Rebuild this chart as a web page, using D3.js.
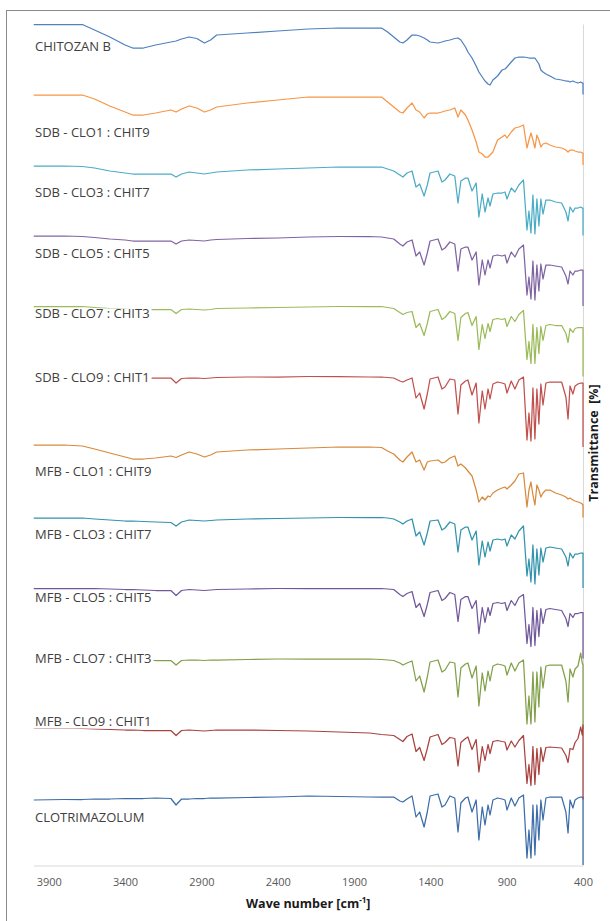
<!DOCTYPE html>
<html>
<head>
<meta charset="utf-8">
<script src="https://cdn.jsdelivr.net/npm/d3@7"></script>
<style>
  body { margin: 0; background: #fff; }
  text { font-family: "Open Sans", "DejaVu Sans", sans-serif; }
</style>
</head>
<body>
<svg id="chart" width="610" height="921"></svg>
<script>
// wave numbers [cm-1], shared by every spectrum (last 400 is the drop at the axis)
const waveNumbers = [4000, 3800, 3680, 3600, 3500, 3400, 3350, 3280, 3200, 3100, 3066, 3030, 2980, 2930, 2880, 2840, 2800,
  2600, 2400, 2200, 2000, 1800, 1720, 1680, 1640, 1600, 1580, 1553, 1520, 1494, 1470, 1441, 1420, 1402, 1350, 1324, 1304,
  1272, 1240, 1219, 1200, 1170, 1154, 1127, 1100, 1082, 1060, 1042, 1022, 1009, 990, 960, 930, 911, 898, 870, 846, 820,
  790, 767, 754, 741, 728, 715, 702, 689, 676, 662, 643, 617, 580, 540, 512, 498, 485, 466, 452, 433, 415, 405, 400, 400];

const sampleNames = ['CHITOZAN B', 'SDB - CLO1 : CHIT9', 'SDB - CLO3 : CHIT7', 'SDB - CLO5 : CHIT5', 'SDB - CLO7 : CHIT3',
  'SDB - CLO9 : CHIT1', 'MFB - CLO1 : CHIT9', 'MFB - CLO3 : CHIT7', 'MFB - CLO5 : CHIT5', 'MFB - CLO7 : CHIT3',
  'MFB - CLO9 : CHIT1', 'CLOTRIMAZOLUM'];

const xTicks = [3900, 3400, 2900, 2400, 1900, 1400, 900, 400];

// transmittance of each spectrum (before stacking)
const chitozanB = [70, 70, 70, 64.5, 57.5, 49.5, 46.5, 46.5, 49.5, 52.5, 53.5, 55.5, 57.5, 56, 51.5, 54.5, 59.5,
  61.5, 63.5, 65.5, 66.5, 66.5, 66.5, 62.5, 57.5, 52.5, 51.5, 54.5, 59.5, 59.5, 58.5, 56.5, 54.5, 52.5, 51.5, 52.5, 53.5,
  54.5, 56, 56.5, 54.5, 47.5, 42.5, 36.5, 28.5, 22.5, 17.5, 13.5, 10.5, 9.5, 14.5, 18.5, 24.5, 25.5, 27.5, 32.5, 36.5, 37.5,
  37.5, 37, 36.5, 36.5, 36.5, 36.5, 33.5, 30.5, 24.5, 22.5, 20.5, 18.5, 15.5, 14.5, 13.5, 13.5, 12.5, 13.5, 12.5, 11.5, 12.5, 11.5, 11.5, 0];

const sdbClo1 = [70, 70, 70, 66, 59, 53, 50, 50, 52, 55, 53, 56, 59, 57, 53, 55, 58,
  62, 65, 68, 68, 68, 68, 63, 58, 53, 52, 57, 62, 55, 53, 47, 51, 52, 52, 53, 54,
  55, 57, 48, 55, 50, 45, 35, 23, 13, 11, 8, 8, 10, 13, 25, 28, 30, 27, 33, 37, 38,
  40, 17, 25, 32, 25, 17, 30, 25, 18, 21, 22, 20, 18, 17, 15, 13, 15, 15, 14, 13, 13, 12, 12, 0];

const sdbClo3 = [69.5, 69.5, 69, 67.5, 64.5, 62.5, 61.5, 61.5, 61.5, 61.5, 58.5, 61.5, 63.5, 62.5, 61.5, 62.5, 63.5,
  65.5, 66.5, 67.5, 68.5, 68.5, 68.5, 66.5, 64.5, 60.5, 58.5, 62.5, 64.5, 48.5, 51.5, 39.5, 50.5, 62.5, 64.5, 53.5, 55.5,
  61.5, 59.5, 32.5, 54.5, 57.5, 57.5, 44.5, 52.5, 18.5, 41.5, 23.5, 37.5, 29.5, 41.5, 42.5, 42.5, 43.5, 36.5, 47.5, 43.5, 50.5,
  55.5, 5.5, 24.5, 2.5, 40.5, 1.5, 36.5, 9.5, 36.5, 21.5, 35.5, 35.5, 33.5, 32.5, 23.5, 14.5, 28.5, 23.5, 27.5, 27.5, 28.5, 27.5, 27.5, 0];

const sdbClo5 = [70, 70, 69.5, 68.5, 67, 66, 65, 65, 65, 65, 62, 65, 66, 65.5, 65, 66, 66.5,
  67.5, 68, 69, 69.5, 69.5, 69, 68, 67, 62, 60, 64, 66, 50, 54, 41, 53, 65, 67, 56, 58,
  64, 62, 35, 57, 59, 59, 46, 54, 21, 46, 31, 46, 38, 50, 51, 50, 51, 43, 54, 49, 57,
  61, 11, 29, 7, 45, 6, 41, 15, 42, 27, 41, 41, 40, 39, 30, 22, 35, 31, 35, 35, 36, 36, 36, 0];

const sdbClo7 = [70, 70, 70, 69, 68, 67.5, 67, 67, 67, 67, 63, 67, 67.5, 67, 66.5, 67, 68,
  68.5, 69, 69.5, 70, 70, 70, 69, 68, 64, 62, 64, 65, 49, 53, 41, 53, 65, 67, 57, 59,
  65, 63, 36, 59, 63, 64, 51, 60, 27, 52, 38, 53, 45, 57, 58, 57, 58, 50, 60, 55, 62,
  66, 17, 35, 13, 52, 13, 49, 23, 50, 36, 51, 52, 51, 51, 43, 34, 48, 44, 48, 49, 49, 49, 49, 0];

const sdbClo9 = [70, 70, 70, 70, 69.5, 69, 69, 69, 69, 69, 64, 68.5, 69, 69, 68.5, 69, 69.5,
  70, 70, 70.5, 70.5, 70, 70, 69.5, 69, 66, 65, 67, 69, 49, 54, 38, 53, 68, 70, 58, 60,
  68, 67, 33, 62, 66, 67, 52, 64, 24, 56, 38, 58, 48, 63, 65, 64, 63, 54, 66, 58, 67,
  70, 7, 34, 6, 59, 8, 58, 23, 63, 42, 64, 65, 65, 65, 50, 28, 61, 53, 61, 63, 64, 64, 64, 0];

const mfbClo1 = [72.5, 72.5, 71.5, 68.5, 64.5, 60.5, 58.5, 58.5, 59.5, 61.5, 60, 62.5, 65.5, 63.5, 60.5, 62.5, 65.5,
  67.5, 68.5, 69.5, 70.5, 70.5, 70, 66.5, 63.5, 57.5, 55.5, 60.5, 65.5, 55.5, 57.5, 47.5, 55.5, 56.5, 57.5, 54.5, 55.5,
  59.5, 61.5, 51.5, 53.5, 49.5, 46.5, 41.5, 27.5, 15.5, 20.5, 17.5, 21.5, 20.5, 24.5, 27.5, 29.5, 30.5, 28.5, 32.5, 36.5, 43.5,
  44.5, 10.5, 27.5, 35.5, 22.5, 12.5, 32.5, 27.5, 20.5, 24.5, 27.5, 27.5, 24.5, 22.5, 20.5, 18.5, 19.5, 17.5, 16.5, 15.5, 14.5, 13.5, 12.5, 0];

const mfbClo3 = [70, 70, 70, 69, 68, 67, 67, 66.5, 66, 65.5, 62, 66, 68, 67.5, 67, 67.5, 68,
  69, 69.5, 70, 70.5, 70.5, 70.5, 70, 69, 66, 64, 67, 69, 52, 56, 43, 55, 67, 68, 58, 60,
  66, 64, 36, 58, 61, 61, 48, 57, 23, 47, 31, 46, 37, 48, 49, 48, 49, 42, 53, 49, 57,
  62, 12, 29, 6, 43, 4, 39, 13, 40, 26, 40, 41, 40, 39, 31, 22, 35, 30, 34, 34, 35, 35, 35, 0];

const mfbClo5 = [70, 70, 70, 70, 69.5, 69, 69, 68.5, 68, 68, 63, 68, 69, 68.5, 68, 68.5, 69,
  69.5, 70, 70, 70, 70, 70, 69.5, 69, 64, 62, 65, 67, 51, 55, 42, 54, 66, 68, 58, 60,
  66, 64, 37, 59, 62, 62, 50, 58, 25, 51, 36, 51, 43, 55, 56, 55, 56, 48, 58, 53, 61,
  64, 15, 34, 12, 51, 13, 48, 22, 50, 35, 49, 50, 49, 48, 40, 32, 45, 41, 45, 45, 46, 46, 46, 0];

const mfbClo7 = [70, 70, 70, 70, 69.5, 69, 69, 69, 68.5, 68.5, 64, 68.5, 69, 69, 68.5, 69, 69,
  69.5, 70, 70, 70, 70, 69.5, 69, 68.5, 66, 64, 66, 68, 48, 53, 37, 52, 67, 69, 57, 59,
  67, 66, 32, 61, 65, 66, 51, 63, 23, 56, 38, 58, 48, 63, 65, 64, 63, 54, 66, 58, 66,
  69, 5, 33, 5, 57, 7, 57, 22, 62, 41, 63, 64, 64, 64, 48, 27, 60, 52, 60, 63, 76, 66, 64, 0];

const mfbClo9 = [71.5, 71.5, 71, 70.5, 70, 69.5, 69.5, 69, 69, 69, 64, 69, 69.5, 69, 68.5, 69, 69.5,
  69.5, 69, 68.5, 67.5, 66.5, 65, 64.5, 64, 60, 58, 63, 65.5, 48, 52, 39, 51, 62.5, 65, 55, 57,
  62, 61, 33.5, 57, 61, 62.5, 50, 60, 27.5, 53, 39, 55, 46, 58, 59, 58, 57.5, 49.5, 58.5, 52.5, 59,
  64, 16, 35, 14, 53, 15, 51, 25, 52, 38, 52, 52.5, 52, 51.5, 44, 37, 51, 50, 57, 61, 72.5, 64.5, 74.5, 0];

const clotrimazolum = [70, 70.5, 70.5, 71, 71, 71.5, 71.5, 71.5, 72, 71.5, 65, 71, 71, 71.5, 71.5, 72, 72,
  72.5, 73, 74, 73.5, 73, 73, 73, 73, 69, 68, 71, 74, 53, 58, 43, 58, 74, 76, 63, 65,
  74, 72, 38, 67, 72, 73, 58, 70, 30, 63, 45, 65, 55, 70, 72, 71, 70, 60, 72, 64, 72,
  75, 12, 40, 12, 65, 15, 65, 30, 70, 50, 72, 73, 73, 73, 58, 37, 70, 62, 70, 72, 73, 73, 73, 0];

const spectra = [chitozanB, sdbClo1, sdbClo3, sdbClo5, sdbClo7, sdbClo9,
  mfbClo1, mfbClo3, mfbClo5, mfbClo7, mfbClo9, clotrimazolum];

const colors = ['#4f81bd', '#f79646', '#4bacc6', '#8064a2', '#9bbb59', '#c0504d',
  '#d88a3c', '#3293ad', '#71589a', '#82a04a', '#a8433f', '#3d6da8'];

// label baseline below the start of each trace (px)
const labelShift = [26.5, 42, 30.5, 22, 11.5, 5, 31, 20.5, 13.5, 4, -2.5, 22];

const step = 70.5; // vertical spacing between stacked spectra

const svg = d3.select('#chart');
const plotLeft = 33.5, plotRight = 583, plotTop = 24, plotBottom = 865;

// outer chart frame
svg.append('rect')
  .attr('x', 6.5).attr('y', 10.5)
  .attr('width', 640).attr('height', 940)
  .attr('fill', 'none')
  .attr('stroke', '#8a8a8a');

const x = d3.scaleLinear().domain([4000, 400]).range([plotLeft, plotRight]);
const y = d3.scaleLinear().domain([5, 846]).range([plotBottom, plotTop]);

svg.append('clipPath').attr('id', 'plot')
  .append('rect')
  .attr('x', plotLeft).attr('y', 10)
  .attr('width', plotRight - plotLeft + 1).attr('height', plotBottom - 10);

// right axis line
svg.append('g')
  .attr('transform', `translate(${plotRight},0)`)
  .call(d3.axisRight(y).tickValues([]).tickSizeOuter(0))
  .call(g => g.select('.domain').attr('stroke', '#d9d9d9'));

// bottom axis
const xAxis = svg.append('g')
  .attr('transform', `translate(0,${plotBottom + 0.5})`)
  .call(d3.axisBottom(x).tickValues(xTicks).tickSize(0).tickSizeOuter(0).tickPadding(13).tickFormat(d3.format('d')));
xAxis.select('.domain').attr('stroke', '#d9d9d9');
xAxis.selectAll('text')
  .attr('font-family', '"Open Sans", sans-serif')
  .attr('font-size', 11)
  .attr('fill', '#595959');

const lines = svg.append('g').attr('clip-path', 'url(#plot)');

spectra.forEach((values, k) => {
  const offset = (spectra.length - 1 - k) * step;
  const line = d3.line()
    .x((d, i) => x(waveNumbers[i]))
    .y(d => y(d + offset));
  lines.append('path')
    .datum(values)
    .attr('d', line)
    .attr('fill', 'none')
    .attr('stroke', colors[k])
    .attr('stroke-width', 1.25)
    .attr('stroke-linejoin', 'round');
});

// sample labels, each on a tight white box
const labels = svg.append('g');
sampleNames.forEach((name, k) => {
  const offset = (spectra.length - 1 - k) * step;
  const base = y(spectra[k][0] + offset) + labelShift[k];
  const g = labels.append('g');
  const t = g.append('text')
    .attr('x', 35)
    .attr('y', base)
    .attr('font-size', 13)
    .attr('fill', '#404040')
    .text(name);
  const b = t.node().getBBox();
  g.insert('rect', 'text')
    .attr('x', b.x - 2).attr('y', base - 9.5)
    .attr('width', b.width + 4).attr('height', 12.5)
    .attr('fill', '#fff');
});

// axis titles
const xTitle = svg.append('text')
  .attr('x', (plotLeft + plotRight) / 2)
  .attr('y', 908)
  .attr('text-anchor', 'middle')
  .attr('font-size', 12.5)
  .attr('font-weight', 'bold')
  .attr('fill', '#1a1a1a');
xTitle.append('tspan').text('Wave number [cm');
xTitle.append('tspan').attr('font-size', 8).attr('dy', -5).text('-1');
xTitle.append('tspan').attr('dy', 5).text(']');

svg.append('text')
  .attr('transform', 'translate(598,443) rotate(-90)')
  .attr('text-anchor', 'middle')
  .attr('font-size', 12.5)
  .attr('font-weight', 'bold')
  .attr('fill', '#1a1a1a')
  .attr('xml:space', 'preserve')
  .text('Transmittance  [%]');
</script>
</body>
</html>
